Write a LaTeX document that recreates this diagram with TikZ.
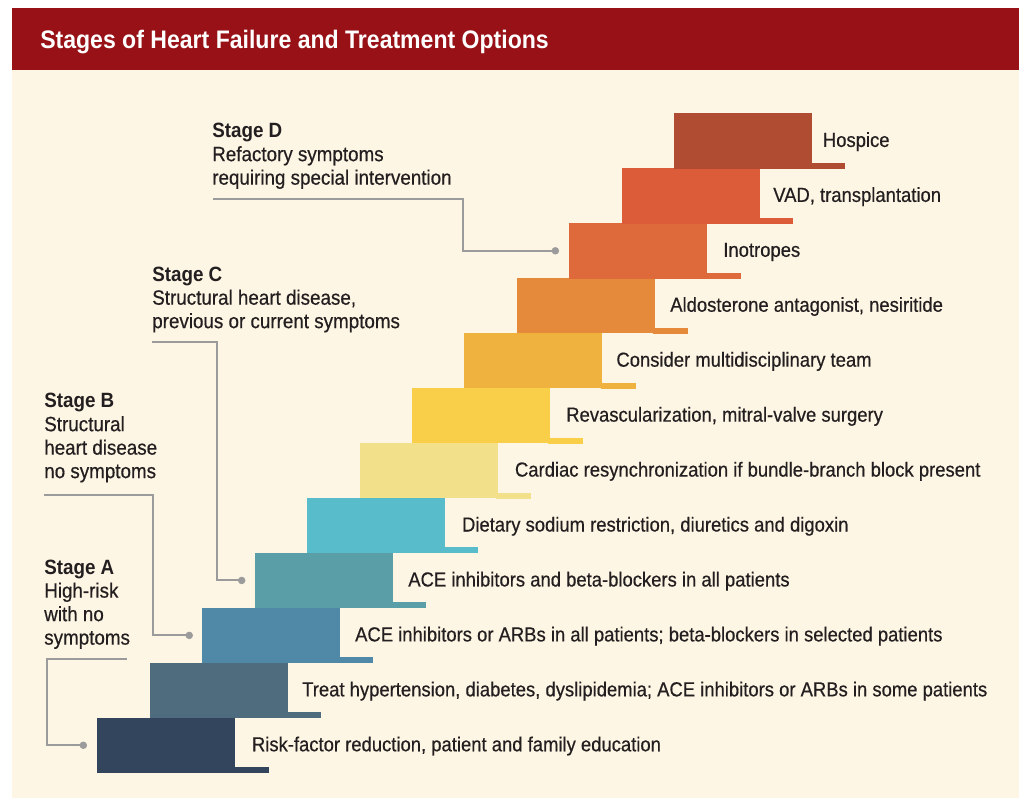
\documentclass[tikz,border=0pt]{standalone}
\usepackage{fontspec}
\setmainfont{Liberation Sans}[FakeStretch=0.91, UprightFeatures={FakeBold=0.5}]
\usepackage{tikz}
\usetikzlibrary{calc,arrows.meta}

\definecolor{titlered}{HTML}{971116}
\definecolor{paper}{HTML}{FEF6E4}
\definecolor{ink}{HTML}{231F20}
\definecolor{leadgray}{HTML}{9B9B9B}
\definecolor{c1}{HTML}{33455C}
\definecolor{c2}{HTML}{4F6B7E}
\definecolor{c3}{HTML}{5089A8}
\definecolor{c4}{HTML}{5A9EA8}
\definecolor{c5}{HTML}{58BCCA}
\definecolor{c6}{HTML}{F3E08A}
\definecolor{c7}{HTML}{F9CE48}
\definecolor{c8}{HTML}{F0B23F}
\definecolor{c9}{HTML}{E5893B}
\definecolor{c10}{HTML}{DE6A3C}
\definecolor{c11}{HTML}{DC5B38}
\definecolor{c12}{HTML}{B04C32}

\tikzset{
  stepbox/.style={
    rectangle,
    draw=none,
    inner sep=0pt,
    minimum width=103.5pt,
    minimum height=41.55pt,
    anchor=north west
  },
  steplabel/.style={
    inner sep=0pt,
    anchor=base west,
    text=ink,
    font=\fontsize{15.2}{18}\selectfont
  },
  stagelabel/.style={
    inner sep=0pt,
    anchor=north west,
    align=left,
    text=ink,
    font=\fontsize{15.5}{17.6}\selectfont
  },
  lead/.style={
    draw=leadgray,
    line width=1.5pt,
    -{Circle[length=5.5pt]}
  },
}

\begin{document}
\begin{tikzpicture}[x=0.75pt,y=-0.75pt]
  \useasboundingbox (0,0) rectangle (1020,798);
  \fill[white] (0,0) rectangle (1020,798);
  \fill[titlered] (12,8) rectangle (1019,70);
  \fill[paper] (12,70) rectangle (1019,798);
  \node[anchor=base west, inner sep=0pt, text=white,
    font=\fontsize{19}{22}\selectfont\bfseries] (title) at (40,49)
    {Stages of Heart Failure and Treatment Options};

  % the staircase
  \foreach \i/\o/\t in {
    1/154.7/{Risk-factor reduction, patient and family education},
    2/152.5/{Treat hypertension, diabetes, dyslipidemia; ACE inhibitors or ARBs in some patients},
    3/153/{ACE inhibitors or ARBs in all patients; beta-blockers in selected patients},
    4/153.7/{ACE inhibitors and beta-blockers in all patients},
    5/155/{Dietary sodium restriction, diuretics and digoxin},
    6/155.5/{Cardiac resynchronization if bundle-branch block present},
    7/154.3/{Revascularization, mitral-valve surgery},
    8/152/{Consider multidisciplinary team},
    9/153.4/{Aldosterone antagonist, nesiritide},
    10/154/{Inotropes},
    11/151.5/{VAD, transplantation},
    12/148.7/{Hospice}}{
    \node[stepbox, fill=c\i] (s\i) at ({97+52.45*(\i-1)},{717.3-54.94*(\i-1)}) {};
    \fill[c\i] ($(s\i.south east)+(-2,0)$) rectangle ++(35,-6);
    \node[steplabel] (t\i) at ($(s\i.west)+(\o,6)$) {\t};
  }

  % stages
  \node[stagelabel] (sD) at (212,123)
    {\textbf{Stage D}\\Refactory symptoms\\requiring special intervention};
  \node[stagelabel] (sC) at (152,266.5)
    {\textbf{Stage C}\\Structural heart disease,\\previous or current symptoms};
  \node[stagelabel] (sB) at (44,393)
    {\textbf{Stage B}\\Structural\\heart disease\\no symptoms};
  \node[stagelabel] (sA) at (44,559.5)
    {\textbf{Stage A}\\High-risk\\with no\\symptoms};

  \coordinate (aD) at (213,199);
  \coordinate (aC) at (152,342.3);
  \coordinate (aB) at (44,495);
  \coordinate (aA) at (127,659);
  \coordinate (pD) at ($(s10.west)+(-10,0)$);
  \coordinate (pC) at ($(s4.west)+(-9,0)$);
  \coordinate (pB) at ($(s3.west)+(-9,0)$);
  \coordinate (pA) at ($(s1.west)+(-10,0)$);

  \draw[lead] (aD) -| ($(pD)+(-96,0)$) -- (pD);
  \draw[lead] (aC) -| ($(pC)+(-28,0)$) -- (pC);
  \draw[lead] (aB) -| ($(pB)+(-40,0)$) -- (pB);
  \draw[lead] (aA) -| ($(pA)+(-40,0)$) -- (pA);
\end{tikzpicture}
\end{document}
